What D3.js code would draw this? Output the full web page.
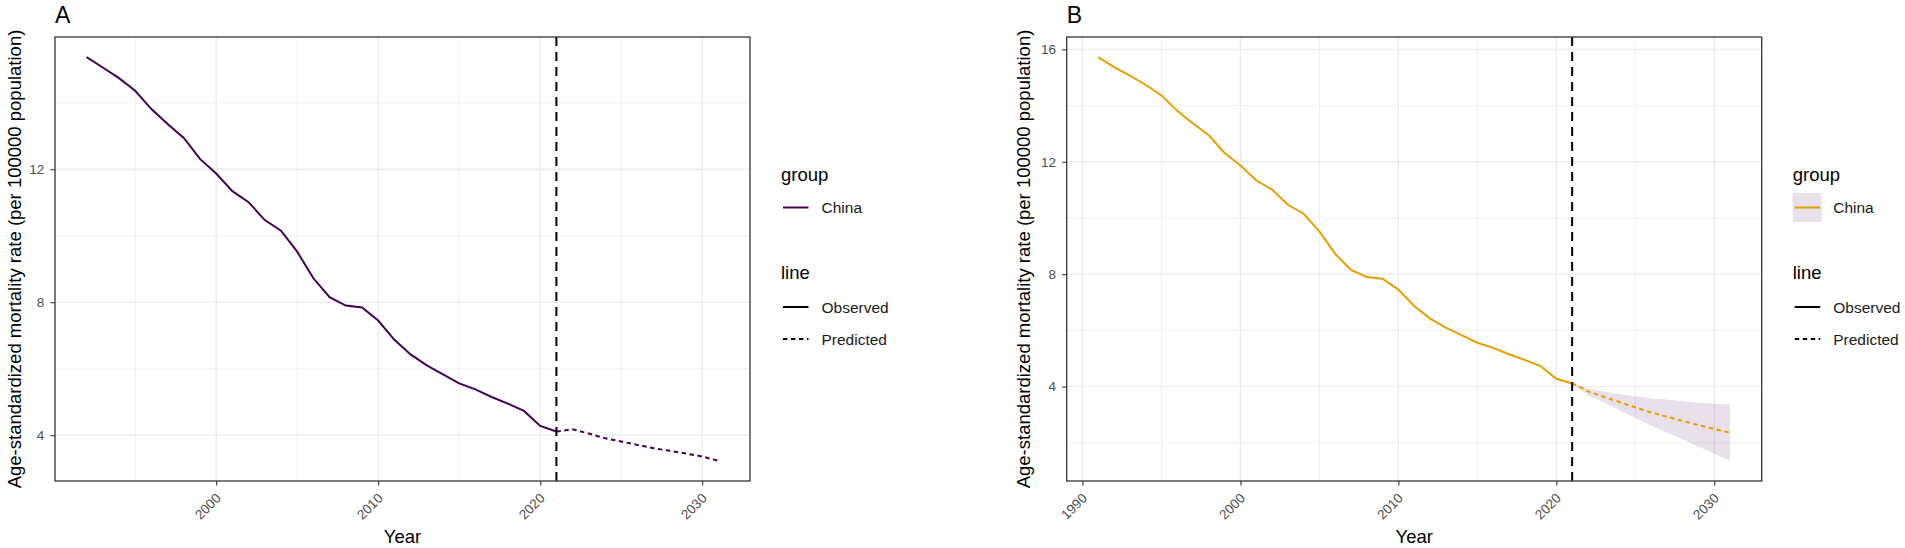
<!DOCTYPE html>
<html lang="en">
<head>
    <meta charset="UTF-8">
    <title>Age-standardized mortality rate, China</title>
    <script src="https://d3js.org/d3.v7.min.js"></script>
    <style>
        body { margin: 0; background: #fff; }
        svg { display: block; font-family: "Liberation Sans", Arial, sans-serif; }
        .tick line { stroke: #333; stroke-width: 1.1; }
        .tick text { fill: #4d4d4d; font-size: 13.5px; }
        .grid-major { stroke: #ebebeb; stroke-width: 1.3; }
        .grid-minor { stroke: #ebebeb; stroke-width: 0.8; }
        .axis-title { font-size: 18.5px; fill: #000; }
        .legend-title { font-size: 18.5px; fill: #000; }
        .legend-text { font-size: 15.5px; fill: #1a1a1a; }
        .tag { font-size: 23px; fill: #000; }
    </style>
</head>
<body>
<div id="chart"></div>
<script>
    // observed series (same for both panels, panel A starts at 1992)
    const obsYears = [1991, 1992, 1993, 1994, 1995, 1996, 1997, 1998, 1999, 2000,
                      2001, 2002, 2003, 2004, 2005, 2006, 2007, 2008, 2009, 2010,
                      2011, 2012, 2013, 2014, 2015, 2016, 2017, 2018, 2019, 2020, 2021];
    const obsRate = [15.72, 15.37, 15.06, 14.74, 14.36, 13.81, 13.36, 12.94, 12.31, 11.87,
                     11.34, 11.01, 10.47, 10.15, 9.52, 8.72, 8.15, 7.90, 7.84, 7.45,
                     6.87, 6.43, 6.10, 5.83, 5.56, 5.38, 5.15, 4.95, 4.73, 4.28, 4.11];

    // predictions
    const predYears = [2021, 2022, 2023, 2024, 2025, 2026, 2027, 2028, 2029, 2030, 2031];
    const predRateA = [4.11, 4.18, 4.05, 3.91, 3.81, 3.71, 3.61, 3.53, 3.45, 3.36, 3.23];
    const predRateB = [4.12, 3.83, 3.64, 3.45, 3.26, 3.08, 2.93, 2.78, 2.63, 2.49, 2.36];
    const predUpperB = [4.12, 3.94, 3.82, 3.73, 3.66, 3.58, 3.54, 3.48, 3.43, 3.39, 3.36];
    const predLowerB = [4.12, 3.70, 3.43, 3.15, 2.88, 2.62, 2.37, 2.12, 1.87, 1.61, 1.36];

    const cutYear = 2021;
    const firstYearA = 1992;

    // ticks
    const xTicksA = [2000, 2010, 2020, 2030];
    const xTicksB = [1990, 2000, 2010, 2020, 2030];
    const xMinor = [1995, 2005, 2015, 2025];
    const yTicksA = [4, 8, 12];
    const yTicksB = [4, 8, 12, 16];
    const yMinorA = [6, 10, 14];
    const yMinorB = [2, 6, 10, 14];

    // legend labels
    const groupLabels = ["China"];
    const lineLabels = ["Observed", "Predicted"];
    const xTitle = "Year";
    const yTitle = "Age-standardized mortality rate (per 100000 population)";

    const W = 1905, H = 548;
    const panelTop = 37, panelH = 444, panelW = 695;

    const svg = d3.select("#chart").append("svg")
        .attr("width", W).attr("height", H);

    function expand(ext) {
        const pad = (ext[1] - ext[0]) * 0.05;
        return [ext[0] - pad, ext[1] + pad];
    }

    function drawPanel(cfg) {
        const g = svg.append("g").attr("transform", `translate(${cfg.left},${panelTop})`);

        const obs = obsYears.map((yr, i) => ({year: yr, v: obsRate[i]}))
            .filter(d => d.year >= cfg.startYear);
        const pred = predYears.map((yr, i) => ({
            year: yr, v: cfg.pred[i],
            lo: cfg.lower ? cfg.lower[i] : null,
            hi: cfg.upper ? cfg.upper[i] : null
        }));

        const allV = obs.map(d => d.v).concat(pred.map(d => d.v));
        if (cfg.lower) allV.push(...cfg.lower, ...cfg.upper);

        const x = d3.scaleLinear()
            .domain(expand([cfg.startYear, d3.max(predYears)]))
            .range([0, panelW]);
        const y = d3.scaleLinear()
            .domain(expand(d3.extent(allV)))
            .range([panelH, 0]);

        // gridlines
        g.selectAll(".gx-minor").data(xMinor).enter().append("line")
            .attr("class", "grid-minor")
            .attr("x1", d => x(d)).attr("x2", d => x(d))
            .attr("y1", 0).attr("y2", panelH);
        g.selectAll(".gy-minor").data(cfg.yMinor).enter().append("line")
            .attr("class", "grid-minor")
            .attr("x1", 0).attr("x2", panelW)
            .attr("y1", d => y(d)).attr("y2", d => y(d));
        g.selectAll(".gx-major").data(cfg.xTicks).enter().append("line")
            .attr("class", "grid-major")
            .attr("x1", d => x(d)).attr("x2", d => x(d))
            .attr("y1", 0).attr("y2", panelH);
        g.selectAll(".gy-major").data(cfg.yTicks).enter().append("line")
            .attr("class", "grid-major")
            .attr("x1", 0).attr("x2", panelW)
            .attr("y1", d => y(d)).attr("y2", d => y(d));

        // confidence band
        if (cfg.lower) {
            g.append("path")
                .datum(pred)
                .attr("fill", "#440154")
                .attr("fill-opacity", 0.12)
                .attr("d", d3.area()
                    .x(d => x(d.year))
                    .y0(d => y(d.lo))
                    .y1(d => y(d.hi)));
        }

        const line = d3.line().x(d => x(d.year)).y(d => y(d.v));

        g.append("path").datum(obs)
            .attr("fill", "none")
            .attr("stroke", cfg.color)
            .attr("stroke-width", 2)
            .attr("d", line);

        g.append("path").datum(pred)
            .attr("fill", "none")
            .attr("stroke", cfg.color)
            .attr("stroke-width", 2)
            .attr("stroke-dasharray", "4.5,3.5")
            .attr("d", line);

        // cut-off year
        g.append("line")
            .attr("x1", x(cutYear)).attr("x2", x(cutYear))
            .attr("y1", 0).attr("y2", panelH)
            .attr("stroke", "#000")
            .attr("stroke-width", 2)
            .attr("stroke-dasharray", "9,6");

        // panel border
        g.append("rect")
            .attr("width", panelW).attr("height", panelH)
            .attr("fill", "none")
            .attr("stroke", "#333")
            .attr("stroke-width", 1.3);

        // axes
        const xAxis = g.append("g")
            .attr("transform", `translate(0,${panelH})`)
            .call(d3.axisBottom(x).tickValues(cfg.xTicks).tickSize(4.5).tickFormat(d3.format("d")));
        xAxis.select(".domain").remove();
        xAxis.selectAll("text")
            .attr("y", null).attr("dy", null)
            .attr("transform", "translate(5,18) rotate(-45)")
            .style("text-anchor", "end");

        const yAxis = g.append("g")
            .call(d3.axisLeft(y).tickValues(cfg.yTicks).tickSize(4.5).tickPadding(6.2));
        yAxis.select(".domain").remove();

        // titles
        g.append("text")
            .attr("class", "axis-title")
            .attr("x", panelW / 2).attr("y", 505.7)
            .attr("text-anchor", "middle")
            .text(xTitle);

        g.append("text")
            .attr("class", "axis-title")
            .attr("transform", `translate(${cfg.yTitleX - cfg.left},${panelH / 2}) rotate(-90)`)
            .attr("text-anchor", "middle")
            .text(yTitle);

        g.append("text")
            .attr("class", "tag")
            .attr("x", 0).attr("y", -14.5)
            .text(cfg.tag);

        drawLegend(cfg.left + panelW + 31, cfg.color, !!cfg.lower);
    }

    function drawLegend(x0, color, withFill) {
        const lg = svg.append("g").attr("transform", `translate(${x0},0)`);

        lg.append("text").attr("class", "legend-title")
            .attr("x", 0).attr("y", 181).text("group");

        const grp = lg.selectAll(".grp").data(groupLabels).enter().append("g")
            .attr("transform", (d, i) => `translate(0,${193 + i * 29})`);
        grp.append("rect")
            .attr("width", 29).attr("height", 29)
            .attr("fill", withFill ? "#440154" : "none")
            .attr("fill-opacity", 0.12);
        grp.append("line")
            .attr("x1", 2).attr("x2", 27.5)
            .attr("y1", 14.5).attr("y2", 14.5)
            .attr("stroke", color).attr("stroke-width", 2);
        grp.append("text").attr("class", "legend-text")
            .attr("x", 40.5).attr("y", 14.5).attr("dy", "0.36em")
            .text(d => d);

        lg.append("text").attr("class", "legend-title")
            .attr("x", 0).attr("y", 279).text("line");

        const ln = lg.selectAll(".ln").data(lineLabels).enter().append("g")
            .attr("transform", (d, i) => `translate(0,${307 + i * 32})`);
        ln.append("line")
            .attr("x1", 2).attr("x2", 27.5)
            .attr("stroke", "#000").attr("stroke-width", 2)
            .attr("stroke-dasharray", (d, i) => i === 0 ? null : "4.5,3.5");
        ln.append("text").attr("class", "legend-text")
            .attr("x", 40.5).attr("dy", "0.36em")
            .text(d => d);
    }

    drawPanel({
        tag: "A", left: 55, yTitleX: 20.5, startYear: firstYearA,
        color: "#440154", pred: predRateA,
        xTicks: xTicksA, yTicks: yTicksA, yMinor: yMinorA
    });

    drawPanel({
        tag: "B", left: 1066.7, yTitleX: 1030.2, startYear: obsYears[0],
        color: "#E69F00", pred: predRateB, upper: predUpperB, lower: predLowerB,
        xTicks: xTicksB, yTicks: yTicksB, yMinor: yMinorB
    });
</script>
</body>
</html>
